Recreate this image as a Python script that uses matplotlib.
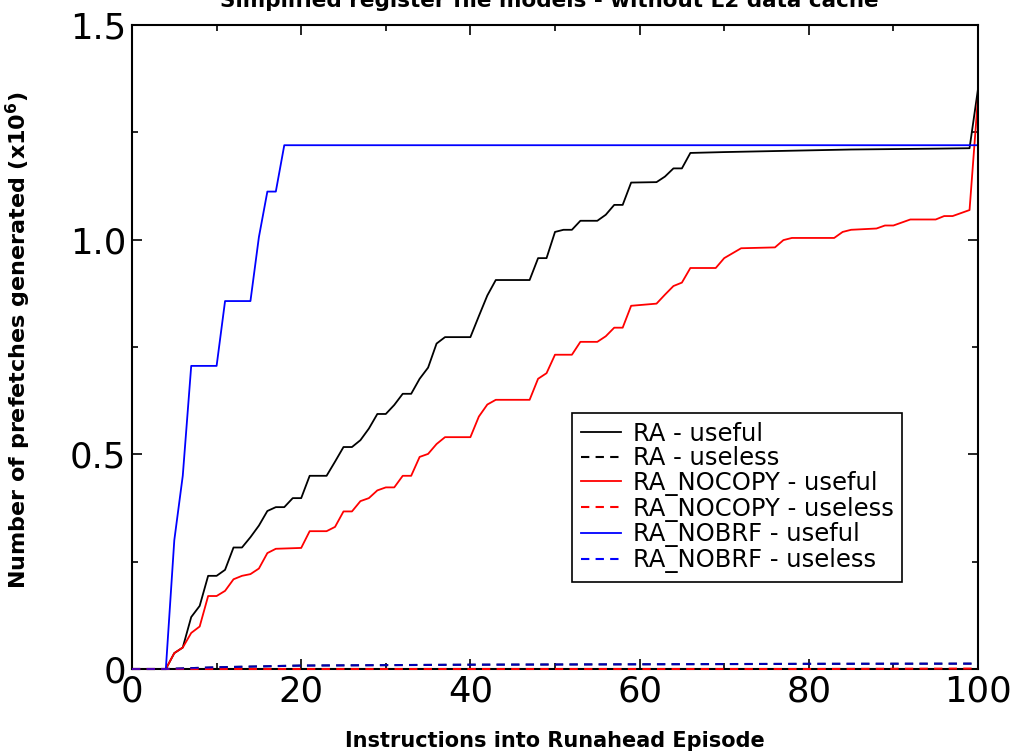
import numpy as np
import matplotlib
matplotlib.use("Agg")
import matplotlib.pyplot as plt
from matplotlib.ticker import MultipleLocator

plt.rcParams['font.family'] = ['DejaVu Sans']

# data, values in millions of prefetches
nobrf_x = [0, 4, 5, 6, 7, 10, 11, 14, 15, 16, 17, 18, 100]
nobrf_useful = [0, 0, 0.30, 0.45, 0.706, 0.706, 0.857, 0.857, 1.006, 1.112, 1.112, 1.22, 1.22]

ra_x = [0, 4, 5, 6, 7, 8, 9, 10, 11, 12, 13, 14, 15, 16, 17, 18, 19, 20, 21, 23,
        24, 25, 26, 27, 28, 29, 30, 31, 32, 33, 34, 35, 36, 37, 40, 41, 42, 43, 47, 48,
        49, 50, 51, 52, 53, 55, 56, 57, 58, 59, 62, 63, 64, 65, 66, 70, 75, 80, 85, 90,
        95, 99, 100]
ra_useful = [0, 0, 0.037, 0.05, 0.121, 0.147, 0.217, 0.217, 0.231, 0.283, 0.283, 0.307, 0.334, 0.368, 0.377, 0.377, 0.398, 0.398, 0.45, 0.45,
             0.483, 0.517, 0.517, 0.533, 0.56, 0.594, 0.594, 0.615, 0.641, 0.641, 0.676, 0.702, 0.758, 0.773, 0.773, 0.822, 0.870, 0.906, 0.906, 0.957,
             0.957, 1.018, 1.023, 1.023, 1.044, 1.044, 1.058, 1.081, 1.081, 1.133, 1.134, 1.147, 1.166, 1.166, 1.202, 1.204, 1.206, 1.208, 1.210, 1.211,
             1.212, 1.213, 1.351]

nocopy_x = [0, 4, 5, 6, 7, 8, 9, 10, 11, 12, 13, 14, 15, 16, 17, 20, 21, 23, 24, 25,
            26, 27, 28, 29, 30, 31, 32, 33, 34, 35, 36, 37, 40, 41, 42, 43, 47, 48, 49, 50,
            52, 53, 55, 56, 57, 58, 59, 62, 63, 64, 65, 66, 69, 70, 72, 76, 77, 78, 83, 84,
            85, 87, 88, 89, 90, 92, 95, 96, 97, 99, 100]
nocopy_useful = [0, 0, 0.037, 0.05, 0.084, 0.099, 0.170, 0.170, 0.182, 0.209, 0.217, 0.221, 0.234, 0.270, 0.280, 0.282, 0.321, 0.321, 0.331, 0.367,
                 0.367, 0.391, 0.398, 0.416, 0.423, 0.423, 0.450, 0.450, 0.494, 0.501, 0.524, 0.540, 0.540, 0.588, 0.616, 0.627, 0.627, 0.676, 0.689, 0.732,
                 0.732, 0.762, 0.762, 0.775, 0.795, 0.795, 0.846, 0.851, 0.872, 0.892, 0.900, 0.934, 0.934, 0.957, 0.980, 0.982, 0.999, 1.004, 1.004, 1.018,
                 1.023, 1.025, 1.026, 1.033, 1.033, 1.047, 1.047, 1.055, 1.055, 1.069, 1.332]

useless_x = [0, 4, 10, 20, 40, 60, 80, 100]
ra_useless = [0, 0, 0.004, 0.008, 0.010, 0.011, 0.012, 0.0125]
nocopy_useless = [0, 0, 0, 0, 0, 0, 0, 0.001]
nobrf_useless = [0, 0, 0.004, 0.008, 0.010, 0.011, 0.012, 0.0125]

fig = plt.figure(figsize=(10.24, 7.53), dpi=100)
ax = fig.add_axes([132 / 1024, 1 - 669 / 753, 846 / 1024, 644 / 753])

dash = (0, (4, 3))
ax.plot(ra_x, ra_useful, color='black', lw=1.3, label='RA - useful')
ax.plot(useless_x, ra_useless, color='black', lw=1.5, ls=dash, label='RA - useless',
        clip_on=False, zorder=3)
ax.plot(nocopy_x, nocopy_useful, color='red', lw=1.3, label='RA_NOCOPY - useful')
ax.plot(useless_x, nocopy_useless, color='red', lw=1.5, ls=dash, label='RA_NOCOPY - useless',
        clip_on=False, zorder=3)
ax.plot(nobrf_x, nobrf_useful, color='blue', lw=1.3, label='RA_NOBRF - useful')
ax.plot(useless_x, nobrf_useless, color='blue', lw=1.5, ls=dash, label='RA_NOBRF - useless',
        clip_on=False, zorder=3, alpha=0.7)

ax.set_xlim(0, 100)
ax.set_ylim(0, 1.5)
ax.xaxis.set_major_locator(MultipleLocator(20))
ax.xaxis.set_minor_locator(MultipleLocator(10))
ax.yaxis.set_major_locator(MultipleLocator(0.5))
ax.yaxis.set_minor_locator(MultipleLocator(0.25))
ax.yaxis.set_major_formatter(plt.FuncFormatter(lambda v, p: '0' if v == 0 else f'{v:.1f}'))

ax.tick_params(which='both', direction='in', top=True, right=True, width=1.2)
ax.tick_params(which='major', length=7, labelsize=25.5, pad=4)
ax.tick_params(which='minor', length=4)
for s in ax.spines.values():
    s.set_linewidth(1.5)

ax.set_xlabel('Instructions into Runahead Episode', fontsize=15, fontweight='bold')
ax.xaxis.set_label_coords((555 - 132) / 846, (669 - 731) / 644)
ax.set_ylabel(r'Number of prefetches generated (x10$^{\mathbf{6}}$)', fontsize=16,
              fontweight='bold')
ax.yaxis.set_label_coords((33 - 132) / 846, (669 - 340) / 644)

fig.text(549 / 1024, 1 - 7 / 753, 'Simplified register file models - without L2 data cache',
         ha='center', va='baseline', fontsize=15.5, fontweight='bold')

leg = ax.legend(loc='upper left', bbox_to_anchor=((572 - 132) / 846, (669 - 413) / 644),
                fontsize=17.5, frameon=True, fancybox=False, framealpha=1,
                edgecolor='black', handlelength=1.65, handletextpad=0.5,
                labelspacing=0.03, borderpad=0.35, borderaxespad=0)
leg.get_frame().set_linewidth(1.2)
for h in leg.get_lines():
    h.set_alpha(1)

fig.savefig('out.png', dpi=100)
